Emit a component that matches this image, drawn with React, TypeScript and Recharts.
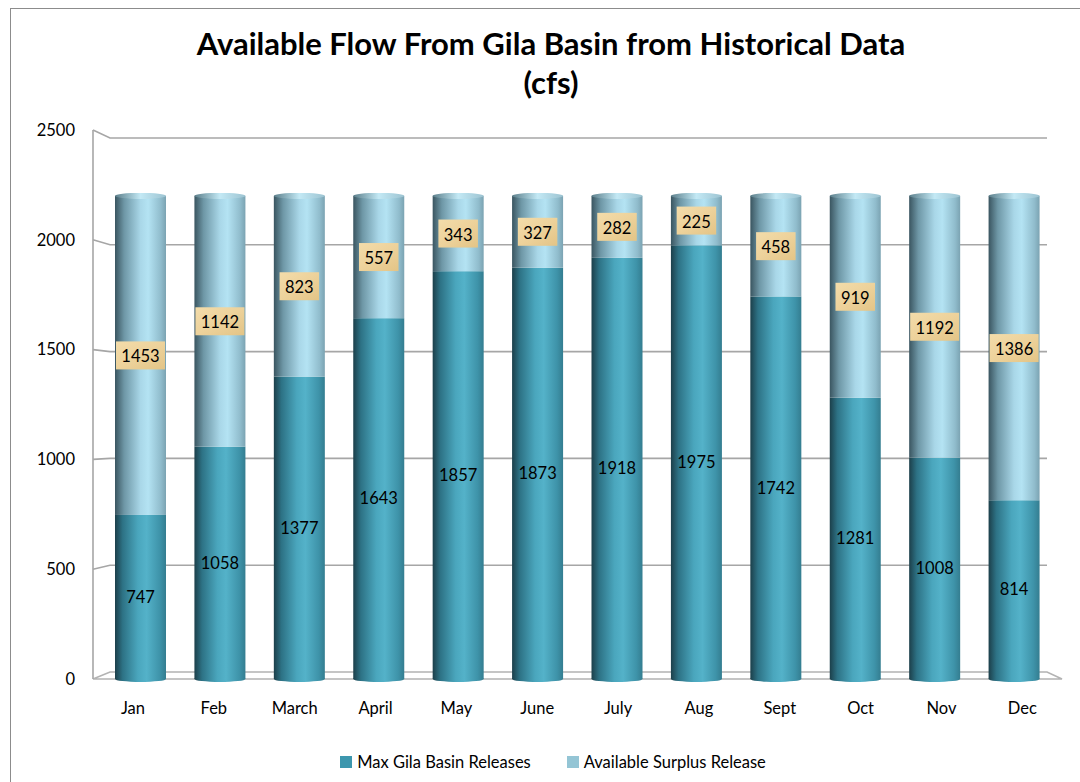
import { Bar, BarChart, CartesianGrid, LabelList, Legend, XAxis, YAxis } from "recharts";

const months = ["Jan", "Feb", "March", "April", "May", "June", "July", "Aug", "Sept", "Oct", "Nov", "Dec"];
const maxGila = [747, 1058, 1377, 1643, 1857, 1873, 1918, 1975, 1742, 1281, 1008, 814];
const surplus = [1453, 1142, 823, 557, 343, 327, 282, 225, 458, 919, 1192, 1386];
const yTicks = [0, 500, 1000, 1500, 2000, 2500];

const data = months.map((m, i) => ({ month: m, maxGila: maxGila[i], surplus: surplus[i] }));

const FONT = "Lato, 'Open Sans', sans-serif";
const DARK = "#3d97ae";
const LIGHT = "#94c5d5";

/* ---------- cylinder pieces ---------- */
function DarkCylinder(props: any) {
  const { x, y, width, height } = props;
  if (!height) return null;
  return (
    <g>
      <rect x={x} y={y} width={width} height={height} fill="url(#darkGrad)" />
      <ellipse cx={x + width / 2} cy={y + height} rx={width / 2} ry={3} fill="url(#darkGrad)" />
    </g>
  );
}

function LightCylinder(props: any) {
  const { x, y, width, height } = props;
  if (!height) return null;
  return (
    <g>
      <rect x={x} y={y} width={width} height={height} fill="url(#lightGrad)" />
      <ellipse cx={x + width / 2} cy={y} rx={width / 2} ry={3} fill="url(#capGrad)" />
    </g>
  );
}

function TanLabel(props: any) {
  const { x, y, width, height, value } = props;
  const cx = x + width / 2;
  const cy = y + height / 2;
  const w = String(value).length * 9.5 + 11;
  return (
    <g>
      <rect x={cx - w / 2} y={cy - 14} width={w} height={28} fill="url(#tanGrad)" />
      <text x={cx} y={cy + 1} textAnchor="middle" dominantBaseline="central" fontFamily={FONT} fontSize={16.5} fill="#000">
        {value}
      </text>
    </g>
  );
}

/* ---------- fake 3d walls ---------- */
function WallLine(props: any) {
  const { x1, x2, y1 } = props;
  const floorFront = 679;
  const yb = 672 - (floorFront - y1) * 0.9727;
  if (Math.abs(y1 - floorFront) < 1) {
    return (
      <path
        d={`M${x1},${y1} L${x1 + 17},${yb} L${x2 - 15},${yb} L${x2},${y1} Z`}
        fill="none"
        stroke="#b3b3b3"
        strokeWidth={1.6}
      />
    );
  }
  return (
    <path
      d={`M${x1},${y1} L${x1 + 17},${yb} L${x2 - 15},${yb}`}
      fill="none"
      stroke="#a6a6a6"
      strokeWidth={1.6}
    />
  );
}

function MonthTick(props: any) {
  const { x, y, payload } = props;
  const shift = (x - 570) * 0.018;
  return (
    <text x={x + shift} y={y} dy="0.71em" textAnchor="middle" fontFamily={FONT} fontSize={16.5} fill="#000">
      {payload.value}
    </text>
  );
}

function LegendContent() {
  const items = [
    { label: "Max Gila Basin Releases", color: DARK },
    { label: "Available Surplus Release", color: LIGHT },
  ];
  return (
    <div style={{ display: "flex", justifyContent: "center", gap: 36, paddingLeft: 44, fontFamily: FONT, fontSize: 16.5 }}>
      {items.map((it) => (
        <div key={it.label} style={{ display: "flex", alignItems: "center", gap: 5 }}>
          <div style={{ width: 12, height: 12, backgroundColor: it.color }} />
          <span style={{ color: "#000" }}>{it.label}</span>
        </div>
      ))}
    </div>
  );
}

export default function App() {
  return (
    <div style={{ position: "fixed", left: 0, top: 0, width: 1080, height: 782, overflow: "hidden", background: "#fff" }}>
      <div style={{ position: "absolute", left: 10, top: 8, width: 1100, height: 820, border: "1px solid #8c8c8c" }} />
      <div
        style={{
          position: "absolute",
          left: 0,
          top: 24,
          width: 1102,
          textAlign: "center",
          fontFamily: FONT,
          fontWeight: 700,
          fontSize: 31,
          lineHeight: "39px",
          color: "#000",
        }}
      >
        Available Flow From Gila Basin from Historical Data
        <br />
        (cfs)
      </div>
      <div style={{ position: "absolute", left: 0, top: 0 }}>
        <BarChart width={1080} height={782} data={data} margin={{ top: 130, right: 18, bottom: 23, left: 0 }} barSize={51}>
          <defs>
            <linearGradient id="darkGrad" x1="0" y1="0" x2="1" y2="0">
              <stop offset="0%" stopColor="#1c3f4a" />
              <stop offset="15%" stopColor="#2d7285" />
              <stop offset="45%" stopColor="#4aa6bd" />
              <stop offset="62%" stopColor="#54b2c9" />
              <stop offset="88%" stopColor="#3e93a9" />
              <stop offset="100%" stopColor="#347d90" />
            </linearGradient>
            <linearGradient id="lightGrad" x1="0" y1="0" x2="1" y2="0">
              <stop offset="0%" stopColor="#3a5560" />
              <stop offset="18%" stopColor="#6e97a6" />
              <stop offset="50%" stopColor="#a9d7e8" />
              <stop offset="65%" stopColor="#b4e3f3" />
              <stop offset="90%" stopColor="#90bccc" />
              <stop offset="100%" stopColor="#7ba3b2" />
            </linearGradient>
            <linearGradient id="capGrad" x1="0" y1="0" x2="1" y2="0">
              <stop offset="0%" stopColor="#5c7f8b" />
              <stop offset="50%" stopColor="#c3e9f5" />
              <stop offset="100%" stopColor="#9cc3d1" />
            </linearGradient>
            <linearGradient id="tanGrad" x1="0" y1="0" x2="1" y2="1">
              <stop offset="0%" stopColor="#f3dcaa" />
              <stop offset="50%" stopColor="#edd29b" />
              <stop offset="100%" stopColor="#e3c486" />
            </linearGradient>
          </defs>
          <CartesianGrid horizontal={(p: any) => <WallLine key={p.key} {...p} />} vertical={false} />
          <XAxis
            dataKey="month"
            padding={{ left: 8, right: 8 }}
            axisLine={false}
            tickLine={false}
            tickSize={0}
            tickMargin={23}
            height={50}
            tick={<MonthTick />}
          />
          <YAxis
            domain={[0, 2500]}
            ticks={yTicks}
            width={93}
            tickLine={false}
            tickSize={0}
            tickMargin={18}
            axisLine={{ stroke: "#a6a6a6", strokeWidth: 1.6 }}
            tick={{ fill: "#000", fontSize: 16.5, fontFamily: FONT }}
          />
          <Legend verticalAlign="bottom" height={30} wrapperStyle={{ bottom: 0 }} content={<LegendContent />} />
          <Bar dataKey="maxGila" name="Max Gila Basin Releases" stackId="a" fill={DARK} shape={<DarkCylinder />} isAnimationActive={false}>
            <LabelList dataKey="maxGila" position="center" fill="#000" fontSize={16.5} fontFamily={FONT} />
          </Bar>
          <Bar dataKey="surplus" name="Available Surplus Release" stackId="a" fill={LIGHT} shape={<LightCylinder />} isAnimationActive={false}>
            <LabelList dataKey="surplus" content={<TanLabel />} />
          </Bar>
        </BarChart>
      </div>
    </div>
  );
}
